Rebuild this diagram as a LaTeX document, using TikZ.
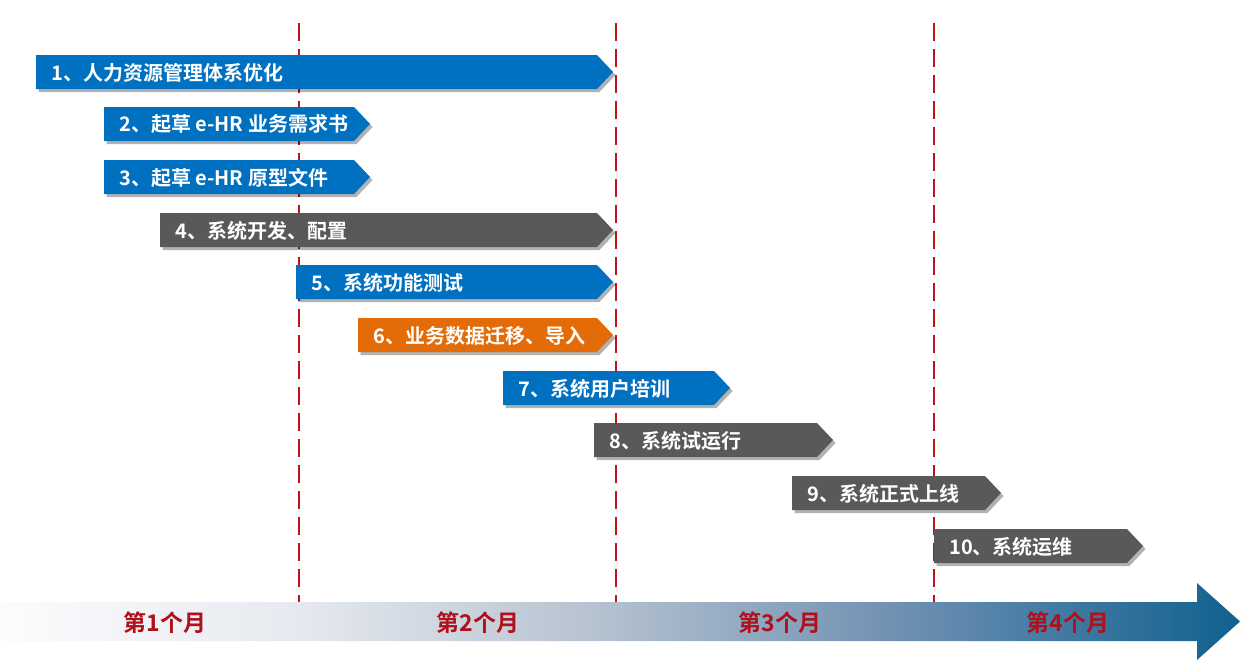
\documentclass[tikz,border=0pt]{standalone}
\usepackage{fontspec}
\newfontfamily\cjk{Noto Sans CJK SC}
\newfontfamily\cjkb{Noto Sans CJK SC Bold}
\usetikzlibrary{shadows}
\definecolor{barblue}{HTML}{0070C0}
\definecolor{bargray}{HTML}{595959}
\definecolor{barorange}{HTML}{E36C09}
\definecolor{divred}{HTML}{C0131B}
\definecolor{monthred}{HTML}{B0101A}
\definecolor{sA}{HTML}{FBFCFD}
\definecolor{sB}{HTML}{E6E9EF}
\definecolor{sC}{HTML}{B6C2D0}
\definecolor{sD}{HTML}{7191B3}
\definecolor{sE}{HTML}{10618F}
\pgfdeclarehorizontalshading{monthshade}{100bp}{color(0bp)=(sA); color(25bp)=(sA); color(37bp)=(sB); color(49bp)=(sC); color(61bp)=(sD); color(75bp)=(sE); color(100bp)=(sE)}
\tikzset{
  barshape/.style={fill=#1, drop shadow={shadow xshift=2.5pt, shadow yshift=-3pt, fill=black, opacity=0.3}},
  bartext/.style={anchor=west, text=white, font=\cjkb\fontsize{20}{20}\selectfont, inner sep=0pt},
  divline/.style={draw=divred, line width=2pt, dash pattern=on 18pt off 8pt},
  monthtext/.style={text=monthred, font=\cjkb\fontsize{23}{23}\selectfont, inner sep=0pt}
}
% #1 name, #2 x0, #3 tip x, #4 y top, #5 colour, #6 text
\newcommand\taskbar[6]{%
  \path[barshape=#5] (#2,#4) -- (#3-16,#4) -- (#3,#4+17) -- (#3-16,#4+34) -- (#2,#4+34) -- cycle;
  \node[bartext] (#1) at (#2+15,#4+17.5) {#6};
}
\begin{document}
\begin{tikzpicture}[x=1pt,y=-1pt]
\useasboundingbox (0,0) rectangle (1245,672);
% timeline arrow
\shade[shading=monthshade] (0,602) -- (1197,602) -- (1197,583) -- (1240,621.5) -- (1197,660) -- (1197,641) -- (0,641) -- cycle;
% month dividers
\coordinate (d1t) at (299,23); \coordinate (d1b) at (299,602);
\coordinate (d2t) at (616,23); \coordinate (d2b) at (616,602);
\coordinate (d3t) at (934,23); \coordinate (d3b) at (934,602);
\draw[divline] (d1t) -- (d1b);
\draw[divline] (d2t) -- (d2b);
\draw[divline] (d3t) -- (d3b);
% tasks
\taskbar{t1}{36}{613}{55}{barblue}{1、人力资源管理体系优化}
\taskbar{t2}{104}{370}{107}{barblue}{2、起草 e-HR 业务需求书}
\taskbar{t3}{104}{370}{160}{barblue}{3、起草 e-HR 原型文件}
\taskbar{t4}{160}{613}{213}{bargray}{4、系统开发、配置}
\taskbar{t5}{296}{613}{265}{barblue}{5、系统功能测试}
\taskbar{t6}{358}{613}{318}{barorange}{6、业务数据迁移、导入}
\taskbar{t7}{503}{730}{371}{barblue}{7、系统用户培训}
\taskbar{t8}{594}{833}{423}{bargray}{8、系统试运行}
\taskbar{t9}{792}{1001}{476}{bargray}{9、系统正式上线}
\taskbar{t10}{934}{1143}{529}{bargray}{10、系统运维}
% months
\node[monthtext] (m1) at (165,623) {第1个月};
\node[monthtext] (m2) at (478,623) {第2个月};
\node[monthtext] (m3) at (780,623) {第3个月};
\node[monthtext] (m4) at (1068,623) {第4个月};
\end{tikzpicture}
\end{document}
